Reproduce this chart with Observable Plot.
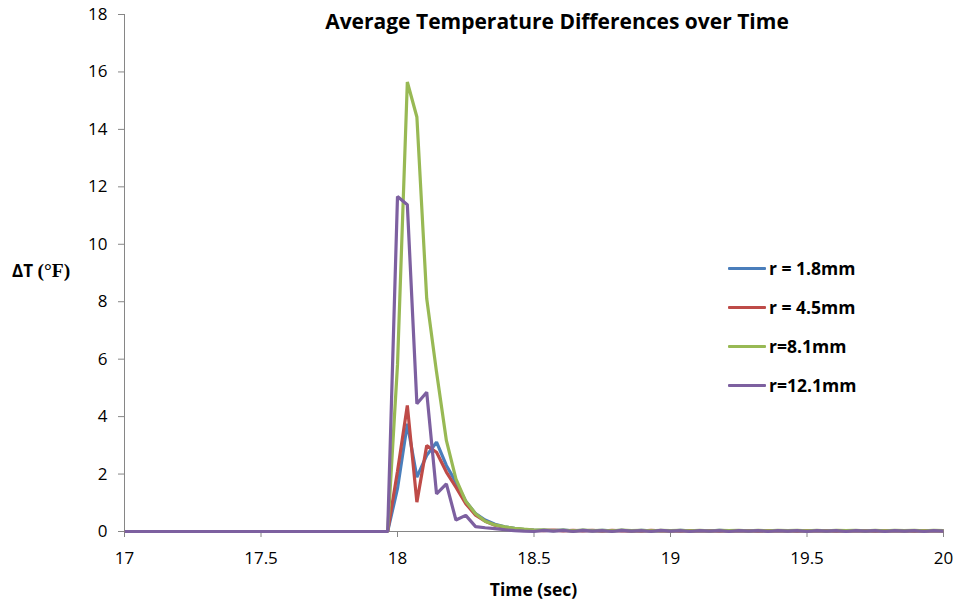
<!DOCTYPE html>
<html>
<head>
<meta charset="utf-8">
<script src="https://cdn.jsdelivr.net/npm/d3@7"></script>
<script src="https://cdn.jsdelivr.net/npm/@observablehq/plot@0.6"></script>
<style>
  html, body { margin: 0; padding: 0; background: #fff; }
  #wrap { position: relative; width: 954px; height: 603px; font-family: "Open Sans", Lato, sans-serif; }
  #title { position: absolute; left: 124px; width: 866px; top: 7px; text-align: center; font-weight: bold; font-size: 21px; line-height: 28px; color: #000; white-space: nowrap; }
  #xlab { position: absolute; left: 124px; width: 819px; top: 577px; text-align: center; font-weight: bold; font-size: 17.5px; line-height: 24px; color: #000; }
  #ylab { position: absolute; left: 12px; top: 258px; font-weight: bold; font-size: 17px; line-height: 26px; color: #000; white-space: nowrap; }
  #ylab .serif { font-family: "Liberation Serif", "DejaVu Serif", serif; font-size: 19.5px; }
  .leg { position: absolute; left: 728px; font-weight: bold; font-size: 17.5px; color: #000; display: flex; align-items: center; height: 20px; white-space: nowrap; }
  .leg .sw { width: 38px; height: 3px; margin-right: 3px; border-radius: 1px; }
</style>
</head>
<body>
<div id="wrap">
  <div id="chart"></div>
  <div id="title"></div>
  <div id="xlab"></div>
  <div id="ylab"></div>
  <div id="legend"></div>
</div>
<script>
const titleText = "Average Temperature Differences over Time";
const xLabel = "Time (sec)";
const yLabelMain = "ΔT ";
const yLabelUnit = "(°F)";

const seriesNames = ["r = 1.8mm", "r = 4.5mm", "r=8.1mm", "r=12.1mm"];
const seriesColors = ["#4A7EBB", "#BE4B48", "#98B954", "#7D60A0"];

const xTicks = [17, 17.5, 18, 18.5, 19, 19.5, 20];
const xTickLabels = ["17", "17.5", "18", "18.5", "19", "19.5", "20"];
const yTicks = [0, 2, 4, 6, 8, 10, 12, 14, 16, 18];
const yTickLabels = ["0", "2", "4", "6", "8", "10", "12", "14", "16", "18"];

const time = [
  17.000, 17.036, 17.071, 17.107, 17.143, 17.179, 17.214, 17.250, 17.286, 17.321,
  17.357, 17.393, 17.429, 17.464, 17.500, 17.536, 17.571, 17.607, 17.643, 17.679,
  17.714, 17.750, 17.786, 17.821, 17.857, 17.893, 17.929, 17.964, 18.000, 18.036,
  18.071, 18.107, 18.143, 18.179, 18.214, 18.250, 18.286, 18.321, 18.357, 18.393,
  18.429, 18.464, 18.500, 18.536, 18.571, 18.607, 18.643, 18.679, 18.714, 18.750,
  18.786, 18.821, 18.857, 18.893, 18.929, 18.964, 19.000, 19.036, 19.071, 19.107,
  19.143, 19.179, 19.214, 19.250, 19.286, 19.321, 19.357, 19.393, 19.429, 19.464,
  19.500, 19.536, 19.571, 19.607, 19.643, 19.679, 19.714, 19.750, 19.786, 19.821,
  19.857, 19.893, 19.929, 19.964, 20.000
];

const r18 = [
  0, 0, 0, 0, 0, 0, 0, 0, 0, 0,
  0, 0, 0, 0, 0, 0, 0, 0, 0, 0,
  0, 0, 0, 0, 0, 0, 0, 0, 1.5, 3.75,
  1.89, 2.65, 3.11, 2.30, 1.72, 1.05, 0.62, 0.40, 0.25, 0.16,
  0.11, 0.07, 0.05, 0.04, 0.03, 0.05, 0.02, 0.04, 0.02, 0.04,
  0.02, 0.04, 0.01, 0.04, 0.02, 0.03, 0.01, 0.04, 0.02, 0.03,
  0.01, 0.04, 0.02, 0.03, 0.01, 0.03, 0.02, 0.03, 0.01, 0.03,
  0.02, 0.03, 0.01, 0.03, 0.02, 0.03, 0.01, 0.03, 0.02, 0.03,
  0.01, 0.03, 0.02, 0.03, 0.02
];
const r45 = [
  0, 0, 0, 0, 0, 0, 0, 0, 0, 0,
  0, 0, 0, 0, 0, 0, 0, 0, 0, 0,
  0, 0, 0, 0, 0, 0, 0, 0, 2.1, 4.39,
  1.02, 2.99, 2.76, 2.07, 1.54, 0.97, 0.57, 0.36, 0.22, 0.14,
  0.09, 0.06, 0.04, 0.03, 0.05, 0.02, 0.04, 0.02, 0.04, 0.01,
  0.04, 0.02, 0.03, 0.01, 0.04, 0.02, 0.03, 0.01, 0.03, 0.02,
  0.03, 0.01, 0.03, 0.02, 0.03, 0.01, 0.03, 0.02, 0.03, 0.01,
  0.03, 0.02, 0.03, 0.01, 0.03, 0.02, 0.03, 0.01, 0.03, 0.02,
  0.03, 0.01, 0.03, 0.02, 0.02
];
const r81 = [
  0, 0, 0, 0, 0, 0, 0, 0, 0, 0,
  0, 0, 0, 0, 0, 0, 0, 0, 0, 0,
  0, 0, 0, 0, 0, 0, 0, 0, 5.8, 15.65,
  14.43, 8.11, 5.55, 3.17, 1.83, 1.05, 0.62, 0.36, 0.23, 0.16,
  0.11, 0.08, 0.05, 0.06, 0.03, 0.05, 0.02, 0.05, 0.03, 0.04,
  0.02, 0.05, 0.03, 0.04, 0.02, 0.04, 0.03, 0.04, 0.02, 0.04,
  0.02, 0.04, 0.03, 0.04, 0.02, 0.04, 0.02, 0.04, 0.03, 0.04,
  0.02, 0.04, 0.02, 0.04, 0.03, 0.04, 0.02, 0.04, 0.02, 0.04,
  0.03, 0.04, 0.02, 0.04, 0.03
];
const r121 = [
  0, 0, 0, 0, 0, 0, 0, 0, 0, 0,
  0, 0, 0, 0, 0, 0, 0, 0, 0, 0,
  0, 0, 0, 0, 0, 0, 0, 0, 11.66, 11.38,
  4.45, 4.85, 1.31, 1.66, 0.40, 0.56, 0.17, 0.13, 0.10, 0.06,
  0.03, 0.01, 0.00, 0.04, 0.01, 0.04, 0.00, 0.04, 0.01, 0.03,
  0.00, 0.04, 0.01, 0.03, 0.00, 0.04, 0.01, 0.03, 0.00, 0.03,
  0.01, 0.03, 0.00, 0.03, 0.01, 0.03, 0.00, 0.03, 0.01, 0.03,
  0.00, 0.03, 0.01, 0.03, 0.00, 0.03, 0.01, 0.03, 0.00, 0.03,
  0.01, 0.03, 0.00, 0.03, 0.01
];

const seriesValues = [r18, r45, r81, r121];
const rows = [];
seriesValues.forEach((vals, i) => {
  vals.forEach((v, j) => rows.push({ t: time[j], v, s: seriesNames[i] }));
});

const axisColor = "#868686";

const chart = Plot.plot({
  width: 954,
  height: 603,
  marginLeft: 124,
  marginRight: 11,
  marginTop: 14,
  marginBottom: 72,
  style: { fontFamily: "'Open Sans', Lato, sans-serif", fontSize: "17px", color: "#000", background: "#fff" },
  x: { domain: [17, 20] },
  y: { domain: [0, 18] },
  color: { domain: seriesNames, range: seriesColors },
  marks: [
    Plot.ruleX([17], { stroke: axisColor, strokeWidth: 1 }),
    Plot.ruleY([0], { stroke: axisColor, strokeWidth: 1 }),
    Plot.axisY({
      ticks: yTicks, tickFormat: (d) => yTickLabels[yTicks.indexOf(d)],
      tickSize: 6, tickPadding: 11, stroke: axisColor, label: null, fontSize: 17, fill: "#000"
    }),
    Plot.axisX({
      ticks: xTicks, tickFormat: (d) => xTickLabels[xTicks.indexOf(d)],
      tickSize: 6, tickPadding: 14, stroke: axisColor, label: null, fontSize: 17, fill: "#000"
    }),
    Plot.line(rows, {
      x: "t", y: "v", z: "s", stroke: "s",
      strokeWidth: 3.2, strokeLinejoin: "miter", strokeLinecap: "butt", curve: "linear"
    })
  ]
});
document.getElementById("chart").appendChild(chart);

document.getElementById("title").textContent = titleText;
document.getElementById("xlab").textContent = xLabel;
const yl = document.getElementById("ylab");
yl.appendChild(document.createTextNode(yLabelMain));
const unit = document.createElement("span");
unit.className = "serif";
unit.textContent = yLabelUnit;
yl.appendChild(unit);

const legend = document.getElementById("legend");
const legendTops = [258, 297, 336, 375];
seriesNames.forEach((name, i) => {
  const d = document.createElement("div");
  d.className = "leg";
  d.style.top = legendTops[i] + "px";
  const sw = document.createElement("div");
  sw.className = "sw";
  sw.style.background = seriesColors[i];
  d.appendChild(sw);
  const t = document.createElement("span");
  t.textContent = name;
  d.appendChild(t);
  legend.appendChild(d);
});
</script>
</body>
</html>
